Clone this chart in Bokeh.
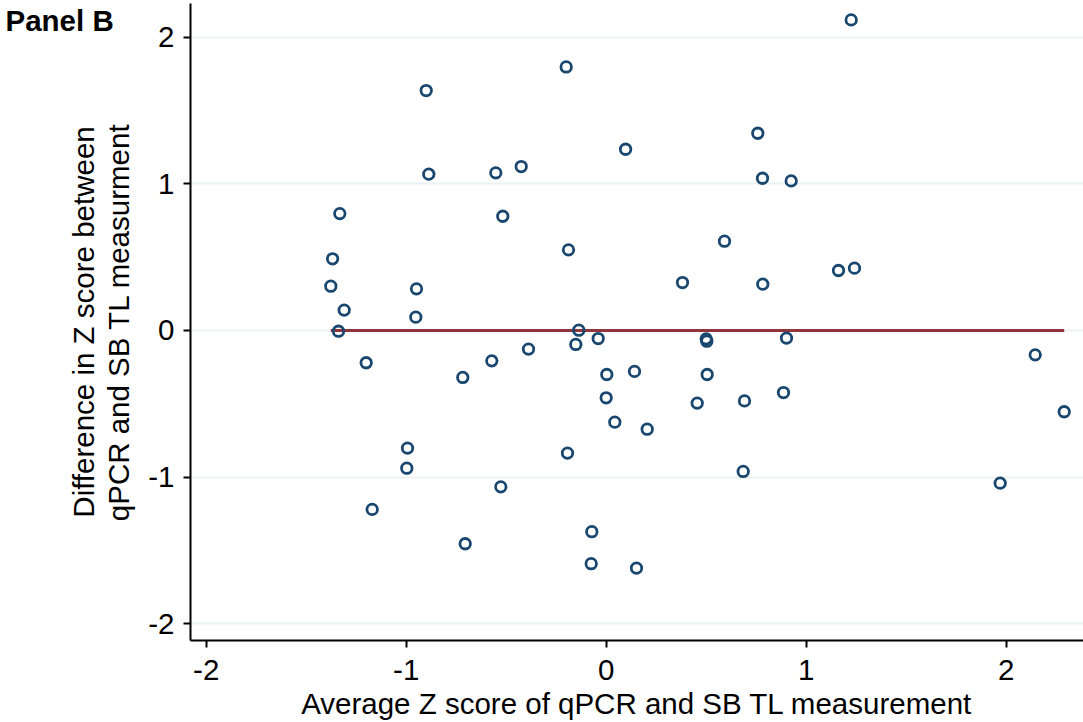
from bokeh.plotting import figure
from bokeh.models import FixedTicker, Range1d, Title
from bokeh.embed import file_html
from bokeh.resources import INLINE

# Average Z score of qPCR and SB TL measurement (x) and difference (y)
avg_z = [-0.200, -0.900, 0.097, -0.425, -0.887, -0.552, -1.332, -0.517, -0.1885, -1.368,
         -1.377, -0.9485, -1.310, -0.952, -1.3385, -0.137, -0.040, -1.200, -0.717, -0.572,
         -0.3885, -0.152, 0.003, 0.000, 0.043, -0.9935, -0.997, -0.1935, -0.527, -1.170,
         -0.072, -0.705, -0.075, 1.225, 0.758, 0.7815, 0.925, 0.5915, 0.3815, 0.783,
         1.1615, 1.2415, 0.500, 0.503, 0.9015, 0.1415, 0.505, 0.455, 0.6915, 0.8865,
         0.205, 0.685, 0.1515, 2.145, 2.290, 1.970]
diff_z = [1.797, 1.636, 1.236, 1.118, 1.066, 1.075, 0.797, 0.779, 0.550, 0.489,
          0.302, 0.284, 0.139, 0.091, -0.005, 0.002, -0.055, -0.220, -0.320, -0.207,
          -0.127, -0.095, -0.300, -0.459, -0.625, -0.802, -0.939, -0.836, -1.066, -1.220,
          -1.372, -1.454, -1.590, 2.118, 1.345, 1.038, 1.020, 0.609, 0.327, 0.316,
          0.409, 0.425, -0.057, -0.073, -0.052, -0.279, -0.300, -0.495, -0.480, -0.423,
          -0.673, -0.961, -1.620, -0.166, -0.554, -1.041]
mean_difference = 0.0
x_ticks = [-2, -1, 0, 1, 2]
y_ticks = [-2, -1, 0, 1, 2]

FONT = "Liberation Sans"

p = figure(width=1083, height=722, output_backend="svg", toolbar_location=None,
           x_range=Range1d(-2.0785, 2.3865), y_range=Range1d(-2.1138, 2.2297),
           min_border_left=190, min_border_right=0, min_border_top=3, min_border_bottom=82)
p.outline_line_color = None
p.background_fill_color = "white"
p.border_fill_color = "white"

p.xgrid.visible = False
p.ygrid.ticker = FixedTicker(ticks=y_ticks)
p.ygrid.grid_line_color = "#eaf2f3"
p.ygrid.grid_line_width = 2

p.xaxis.ticker = FixedTicker(ticks=x_ticks)
p.yaxis.ticker = FixedTicker(ticks=y_ticks)
p.xaxis.major_label_overrides = {t: str(t) for t in x_ticks}
p.yaxis.major_label_overrides = {t: str(t) for t in y_ticks}
for ax in (p.xaxis[0], p.yaxis[0]):
    ax.axis_line_color = "black"
    ax.axis_line_width = 2
    ax.major_tick_line_color = "black"
    ax.major_tick_line_width = 2
    ax.major_tick_out = 7
    ax.major_tick_in = 0
    ax.minor_tick_line_color = None
    ax.major_label_text_font = FONT
    ax.major_label_text_font_size = "29.5px"
    ax.major_label_text_color = "black"
    ax.axis_label_text_font = FONT
    ax.axis_label_text_font_size = "29.5px"
    ax.axis_label_text_font_style = "normal"
    ax.axis_label_text_color = "black"

p.xaxis.axis_label = "Average Z score of qPCR and SB TL measurement"
p.xaxis.major_label_standoff = 12
p.xaxis.axis_label_standoff = 4
p.yaxis.axis_label = "Difference in Z score between\nqPCR and SB TL measurment"
p.yaxis.axis_label_text_line_height = 1.08
p.yaxis.major_label_standoff = 9
p.yaxis.axis_label_standoff = 10

# mean difference line across the data's range
p.line([min(avg_z), max(avg_z)], [mean_difference, mean_difference],
       line_color="#90353b", line_width=3)

p.scatter(avg_z, diff_z, marker="circle", size=10.5, fill_color=None,
          line_color="#1a476f", line_width=2.8)

p.add_layout(Title(text="Panel B", align="left", vertical_align="bottom",
                   offset=-185, standoff=-66,
                   text_font=FONT, text_font_size="29.5px", text_font_style="bold",
                   text_color="black"), "above")

open("out.html", "w").write(file_html(p, INLINE))
